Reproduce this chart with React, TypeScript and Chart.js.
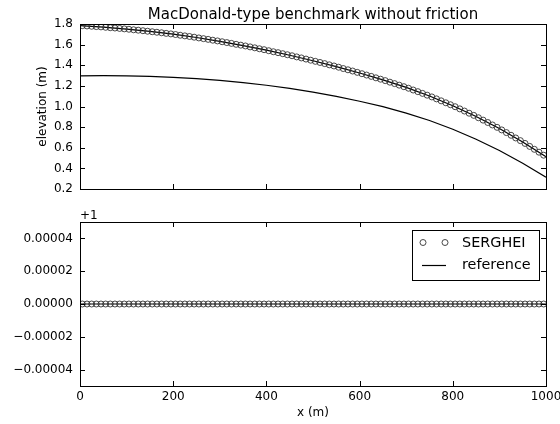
import React, { useEffect, useRef } from "react";
import { Chart, registerables } from "chart.js";

Chart.register(...registerables);

const TITLE = "MacDonald-type benchmark without friction";
const Y1_LABEL = "elevation (m)";
const X_LABEL = "x (m)";
const Q_OFFSET = 1;
const LEGEND_LABELS = ["SERGHEI", "reference"];

const X_TICKS = [0, 200, 400, 600, 800, 1000];
const Y1_TICKS = [0.2, 0.4, 0.6, 0.8, 1.0, 1.2, 1.4, 1.6, 1.8];
const Y2_TICKS = [-0.00004, -0.00002, 0, 0.00002, 0.00004];

const SERG_X = [
  5, 15, 25, 35, 45, 55, 65, 75, 85, 95,
  105, 115, 125, 135, 145, 155, 165, 175, 185, 195,
  205, 215, 225, 235, 245, 255, 265, 275, 285, 295,
  305, 315, 325, 335, 345, 355, 365, 375, 385, 395,
  405, 415, 425, 435, 445, 455, 465, 475, 485, 495,
  505, 515, 525, 535, 545, 555, 565, 575, 585, 595,
  605, 615, 625, 635, 645, 655, 665, 675, 685, 695,
  705, 715, 725, 735, 745, 755, 765, 775, 785, 795,
  805, 815, 825, 835, 845, 855, 865, 875, 885, 895,
  905, 915, 925, 935, 945, 955, 965, 975, 985, 995,
];

const SERG_WSE = [
  1.784, 1.781, 1.778, 1.775, 1.772, 1.768, 1.764, 1.761, 1.757, 1.753,
  1.749, 1.744, 1.740, 1.735, 1.730, 1.725, 1.720, 1.715, 1.709, 1.704,
  1.698, 1.691, 1.685, 1.679, 1.672, 1.665, 1.658, 1.651, 1.643, 1.636,
  1.628, 1.620, 1.612, 1.603, 1.595, 1.587, 1.578, 1.569, 1.560, 1.551,
  1.541, 1.531, 1.522, 1.512, 1.502, 1.492, 1.481, 1.471, 1.460, 1.449,
  1.438, 1.427, 1.416, 1.404, 1.393, 1.381, 1.368, 1.356, 1.344, 1.331,
  1.318, 1.305, 1.292, 1.278, 1.265, 1.251, 1.236, 1.222, 1.207, 1.192,
  1.177, 1.160, 1.144, 1.127, 1.110, 1.093, 1.074, 1.055, 1.036, 1.017,
  0.998, 0.977, 0.956, 0.935, 0.914, 0.891, 0.868, 0.845, 0.821, 0.798,
  0.773, 0.747, 0.721, 0.695, 0.669, 0.642, 0.613, 0.585, 0.557, 0.528,
];

const SERG_Q = [
  1, 1, 1, 1, 1, 1, 1, 1, 1, 1,
  1, 1, 1, 1, 1, 1, 1, 1, 1, 1,
  1, 1, 1, 1, 1, 1, 1, 1, 1, 1,
  1, 1, 1, 1, 1, 1, 1, 1, 1, 1,
  1, 1, 1, 1, 1, 1, 1, 1, 1, 1,
  1, 1, 1, 1, 1, 1, 1, 1, 1, 1,
  1, 1, 1, 1, 1, 1, 1, 1, 1, 1,
  1, 1, 1, 1, 1, 1, 1, 1, 1, 1,
  1, 1, 1, 1, 1, 1, 1, 1, 1, 1,
  1, 1, 1, 1, 1, 1, 1, 1, 1, 1,
];

const REF_X = [0, 50, 100, 150, 200, 250, 300, 350, 400, 450, 500, 550, 600, 650, 700, 750, 800, 850, 900, 950, 1000];
const REF_WSE = [1.785, 1.770, 1.751, 1.728, 1.701, 1.669, 1.632, 1.591, 1.546, 1.497, 1.444, 1.387, 1.325, 1.258, 1.185, 1.102, 1.008, 0.903, 0.786, 0.656, 0.514];
const REF_BED = [1.297, 1.299, 1.297, 1.292, 1.283, 1.270, 1.253, 1.232, 1.206, 1.175, 1.139, 1.098, 1.051, 0.998, 0.936, 0.864, 0.780, 0.683, 0.573, 0.450, 0.314];
const REF_Q = [1, 1, 1, 1, 1, 1, 1, 1, 1, 1, 1, 1, 1, 1, 1, 1, 1, 1, 1, 1, 1];

const FONT = "'DejaVu Sans', 'Liberation Sans', sans-serif";

function pts(xs: number[], ys: number[], off = 0) {
  return xs.map((x, i) => ({ x, y: ys[i] - off }));
}

const frameTicks = (yTicks: number[]) => ({
  id: "frameTicks",
  afterDraw(chart: any) {
    const { ctx, chartArea: a, scales } = chart;
    const L = Math.round(a.left), R = Math.round(a.right), T = Math.round(a.top), B = Math.round(a.bottom);
    ctx.save();
    ctx.strokeStyle = "#000";
    ctx.lineWidth = 1;
    ctx.beginPath();
    for (const v of X_TICKS) {
      const px = Math.round(scales.x.getPixelForValue(v)) + 0.5;
      ctx.moveTo(px, B); ctx.lineTo(px, B - 5);
      ctx.moveTo(px, T); ctx.lineTo(px, T + 5);
    }
    for (const v of yTicks) {
      const py = Math.round(scales.y.getPixelForValue(v)) + 0.5;
      ctx.moveTo(L, py); ctx.lineTo(L + 5, py);
      ctx.moveTo(R, py); ctx.lineTo(R - 5, py);
    }
    ctx.stroke();
    ctx.strokeRect(L + 0.5, T + 0.5, R - L, B - T);
    ctx.restore();
  },
});

const topText = {
  id: "topText",
  afterDraw(chart: any) {
    const { ctx, chartArea: a } = chart;
    ctx.save();
    ctx.fillStyle = "#000";
    ctx.font = `15px ${FONT}`;
    ctx.textAlign = "center";
    ctx.textBaseline = "alphabetic";
    ctx.fillText(TITLE, (a.left + a.right) / 2, 19);
    ctx.font = `12px ${FONT}`;
    ctx.translate(43, (a.top + a.bottom) / 2);
    ctx.rotate(-Math.PI / 2);
    ctx.textBaseline = "middle";
    ctx.fillText(Y1_LABEL, 0, 0);
    ctx.restore();
  },
};

const bottomText = {
  id: "bottomText",
  afterDraw(chart: any) {
    const { ctx, chartArea: a } = chart;
    ctx.save();
    ctx.fillStyle = "#000";
    ctx.font = `12px ${FONT}`;
    ctx.textAlign = "left";
    ctx.textBaseline = "alphabetic";
    ctx.fillText("+" + Q_OFFSET, a.left, 19);
    ctx.textAlign = "center";
    ctx.textBaseline = "middle";
    ctx.fillText(X_LABEL, (a.left + a.right) / 2, 213);
    // legend
    const bx = 412.5, by = 30.5, bw = 127, bh = 50;
    ctx.fillStyle = "#fff";
    ctx.fillRect(bx, by, bw, bh);
    ctx.strokeStyle = "#000";
    ctx.lineWidth = 1;
    ctx.strokeRect(bx, by, bw, bh);
    ctx.strokeStyle = "#333";
    ctx.lineWidth = 0.9;
    for (const cx of [423, 445]) {
      ctx.beginPath();
      ctx.arc(cx, 42.5, 3, 0, Math.PI * 2);
      ctx.stroke();
    }
    ctx.strokeStyle = "#000";
    ctx.lineWidth = 1.2;
    ctx.beginPath();
    ctx.moveTo(422, 65.5);
    ctx.lineTo(446, 65.5);
    ctx.stroke();
    ctx.fillStyle = "#000";
    ctx.font = `14.4px ${FONT}`;
    ctx.textAlign = "left";
    ctx.fillText(LEGEND_LABELS[0], 462, 43);
    ctx.fillText(LEGEND_LABELS[1], 462, 65);
    ctx.restore();
  },
};

function fixY(w: number) {
  return (s: any) => {
    s.width = w;
    s.paddingTop = 0;
    s.paddingBottom = 0;
  };
}
function fixX(h: number) {
  return (s: any) => {
    s.height = h;
    s.paddingLeft = 0;
    s.paddingRight = 0;
  };
}

function fmtQ(v: number) {
  if (Math.abs(v) < 1e-12) return "0.00000";
  const s = Math.abs(v).toFixed(5);
  return v < 0 ? "\u2212" + s : s;
}

export default function App() {
  const topRef = useRef<HTMLCanvasElement>(null);
  const botRef = useRef<HTMLCanvasElement>(null);

  useEffect(() => {
    const tickFont = { family: FONT, size: 12 };
    const serStyle = {
      showLine: false,
      pointRadius: 3,
      pointStyle: "circle",
      pointBackgroundColor: "rgba(0,0,0,0)",
      pointBorderColor: "#333",
      pointBorderWidth: 0.9,
      borderColor: "#333",
      backgroundColor: "rgba(0,0,0,0)",
    };
    const refStyle = {
      showLine: true,
      pointRadius: 0,
      borderColor: "#000",
      borderWidth: 1.2,
      backgroundColor: "#000",
      tension: 0,
    };
    const top = new Chart(topRef.current as HTMLCanvasElement, {
      type: "scatter",
      data: {
        datasets: [
          { label: "SERGHEI", data: pts(SERG_X, SERG_WSE), ...serStyle } as any,
          { label: "reference", data: pts(REF_X, REF_WSE), ...refStyle } as any,
          { label: "reference bed", data: pts(REF_X, REF_BED), ...refStyle } as any,
        ],
      },
      options: {
        animation: false,
        responsive: false,
        layout: { padding: { top: 24, right: 14, bottom: 11, left: 0 } },
        plugins: { legend: { display: false }, tooltip: { enabled: false }, title: { display: false } },
        scales: {
          x: {
            type: "linear",
            min: 0,
            max: 1000,
            grid: { display: false, drawTicks: false },
            border: { display: false },
            ticks: { display: false },
            afterFit: fixX(0),
          },
          y: {
            type: "linear",
            min: 0.2,
            max: 1.8,
            grid: { display: false, drawTicks: false },
            border: { display: false },
            ticks: { color: "#000", font: tickFont, padding: 7, callback: (v: any) => Number(v).toFixed(1) },
            afterBuildTicks: (s: any) => { s.ticks = Y1_TICKS.map((v) => ({ value: v })); },
            afterFit: fixY(80),
          },
        },
      } as any,
      plugins: [frameTicks(Y1_TICKS), topText],
    });

    const bot = new Chart(botRef.current as HTMLCanvasElement, {
      type: "scatter",
      data: {
        datasets: [
          { label: "SERGHEI", data: pts(SERG_X, SERG_Q, Q_OFFSET), ...serStyle } as any,
          { label: "reference", data: pts(REF_X, REF_Q, Q_OFFSET), ...refStyle } as any,
        ],
      },
      options: {
        animation: false,
        responsive: false,
        layout: { padding: { top: 22, right: 14, bottom: 0, left: 0 } },
        plugins: { legend: { display: false }, tooltip: { enabled: false }, title: { display: false } },
        scales: {
          x: {
            type: "linear",
            min: 0,
            max: 1000,
            grid: { display: false, drawTicks: false },
            border: { display: false },
            ticks: { color: "#000", font: tickFont, padding: 4, maxRotation: 0, callback: (v: any) => String(v) },
            afterBuildTicks: (s: any) => { s.ticks = X_TICKS.map((v) => ({ value: v })); },
            afterFit: fixX(38),
          },
          y: {
            type: "linear",
            min: -0.00005,
            max: 0.00005,
            grid: { display: false, drawTicks: false },
            border: { display: false },
            ticks: { color: "#000", font: tickFont, padding: 7, callback: (v: any) => fmtQ(Number(v)) },
            afterBuildTicks: (s: any) => { s.ticks = Y2_TICKS.map((v) => ({ value: v })); },
            afterFit: fixY(80),
          },
        },
      } as any,
      plugins: [frameTicks(Y2_TICKS), bottomText],
    });

    return () => {
      top.destroy();
      bot.destroy();
    };
  }, []);

  return (
    <div style={{ position: "fixed", left: 0, top: 0, width: 560, height: 424, background: "#fff" }}>
      <canvas ref={topRef} width={560} height={200} style={{ position: "absolute", left: 0, top: 0, width: 560, height: 200 }} />
      <canvas ref={botRef} width={560} height={224} style={{ position: "absolute", left: 0, top: 200, width: 560, height: 224 }} />
    </div>
  );
}
